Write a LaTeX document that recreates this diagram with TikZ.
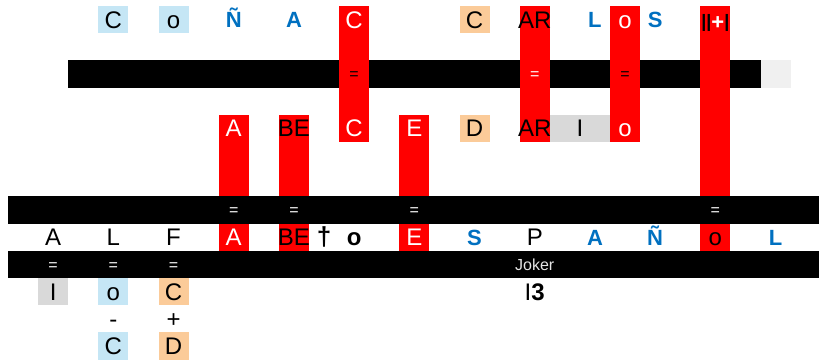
\documentclass[tikz,border=0pt]{standalone}
\usepackage{fontspec}
\setmainfont{Liberation Sans}
\definecolor{lblue}{RGB}{197,230,245}
\definecolor{lorange}{RGB}{251,203,153}
\definecolor{lgrey}{RGB}{217,217,217}
\definecolor{pgrey}{RGB}{240,240,240}
\definecolor{dblue}{RGB}{0,112,192}
\begin{document}
\begin{tikzpicture}[x=30.1pt,y=-27.2pt, line join=round, line cap=round,
	cell/.style={minimum width=30.1pt,minimum height=27.2pt,inner sep=0pt,text height=17.2pt,text depth=0pt,font=\fontsize{24}{24}\selectfont},
	wht/.style={cell,text=white},
	blu/.style={cell,text=dblue,text height=15.8pt,font=\fontsize{22}{22}\selectfont\bfseries},
	eq/.style={cell,text height=11.5pt,font=\fontsize{16}{16}\selectfont},
	lb/.style={cell,fill=lblue}, org/.style={cell,fill=lorange}, gry/.style={cell,fill=lgrey}]
	\useasboundingbox (-8pt,6pt) rectangle (811pt,-357pt);
	% top bar, then the red columns over it
	\fill (2,2) rectangle (25,3);
	\fill[pgrey] (25,2) rectangle (26,3);
	\fill[red] (11,0) rectangle (12,5);
	\fill[red] (17,0) rectangle (18,5);
	\fill[red] (20,0) rectangle (21,5);
	\fill[red] (23,0) rectangle (24,9);
	\fill[red] (7,4) rectangle (8,9);
	\fill[red] (9,4) rectangle (10,9);
	\fill[red] (13,4) rectangle (14,9);
	% lower bars
	\fill (0,7) rectangle (26.94,8);
	\fill (0,9) rectangle (26.94,10);
	% first row
	\node[lb] (ra1) at (3.5,0.5) {C};
	\node[lb] (ra2) at (5.5,0.5) {o};
	\node[blu] (ra3) at (7.5,0.5) {Ñ};
	\node[blu] (ra4) at (9.5,0.5) {A};
	\node[wht] (ra5) at (11.5,0.5) {C};
	\node[org] (ra6) at (15.5,0.5) {C};
	\node[cell] (ra7) at (17.5,0.5) {AR};
	\node[blu] (ra8) at (19.5,0.5) {L};
	\node[wht] (ra9) at (20.5,0.5) {o};
	\node[blu] (ra10) at (21.5,0.5) {S};
	\node[cell,text height=15pt,font=\fontsize{18}{18}\selectfont\bfseries] (ra11) at (23.5,0.5) {||\raisebox{-2.5pt}{\fontsize{22}{22}\selectfont\color{white}+}|};
	\node[eq] (qa1) at (11.5,2.5) {=};
	\node[eq,text=white] (qa2) at (17.5,2.5) {=};
	\node[eq] (qa3) at (20.5,2.5) {=};
	% second row
	\node[wht] (rb1) at (7.5,4.5) {A};
	\node[cell] (rb2) at (9.5,4.5) {BE};
	\node[wht] (rb3) at (11.5,4.5) {C};
	\node[wht] (rb4) at (13.5,4.5) {E};
	\node[org] (rb5) at (15.5,4.5) {D};
	\node[cell] (rb6) at (17.5,4.5) {AR};
	\node[gry,minimum width=60.2pt] (rb7) at (19,4.5) {I};
	\node[wht] (rb8) at (20.5,4.5) {o};
	\node[eq,text=white] (qb1) at (7.5,7.5) {=};
	\node[eq,text=white] (qb2) at (9.5,7.5) {=};
	\node[eq,text=white] (qb3) at (13.5,7.5) {=};
	\node[eq,text=white] (qb4) at (23.5,7.5) {=};
	% third row
	\node[cell] (rc1) at (1.5,8.5) {A};
	\node[cell] (rc2) at (3.5,8.5) {L};
	\node[cell] (rc3) at (5.5,8.5) {F};
	\node[wht] (rc4) at (7.5,8.5) {A};
	\node[cell] (rc5) at (9.5,8.5) {BE};
	\node[cell,font=\fontsize{26}{26}\selectfont\bfseries] (rc6) at (10.5,8.5) {†};
	\node[cell,font=\fontsize{24}{24}\selectfont\bfseries] (rc7) at (11.5,8.5) {o};
	\node[wht] (rc8) at (13.5,8.5) {E};
	\node[blu] (rc9) at (15.5,8.5) {S};
	\node[cell] (rc10) at (17.5,8.5) {P};
	\node[blu] (rc11) at (19.5,8.5) {A};
	\node[blu] (rc12) at (21.5,8.5) {Ñ};
	\node[cell] (rc13) at (23.5,8.5) {o};
	\node[blu] (rc14) at (25.5,8.5) {L};
	\node[eq,text=white] (qc1) at (1.5,9.5) {=};
	\node[eq,text=white] (qc2) at (3.5,9.5) {=};
	\node[eq,text=white] (qc3) at (5.5,9.5) {=};
	\node[eq,text=white!90!black,text height=11.5pt,font=\fontsize{16}{16}\selectfont] (jk) at (17.5,9.5) {Joker};
	% below
	\node[gry] (rd1) at (1.5,10.5) {I};
	\node[lb] (rd2) at (3.5,10.5) {o};
	\node[org] (rd3) at (5.5,10.5) {C};
	\node[cell] (rd4) at (17.5,10.5) {I\textbf{3}};
	\node[cell] (rd5) at (3.5,11.5) {-};
	\node[cell] (rd6) at (5.5,11.5) {+};
	\node[lb] (rd7) at (3.5,12.5) {C};
	\node[org] (rd8) at (5.5,12.5) {D};
\end{tikzpicture}
\end{document}
